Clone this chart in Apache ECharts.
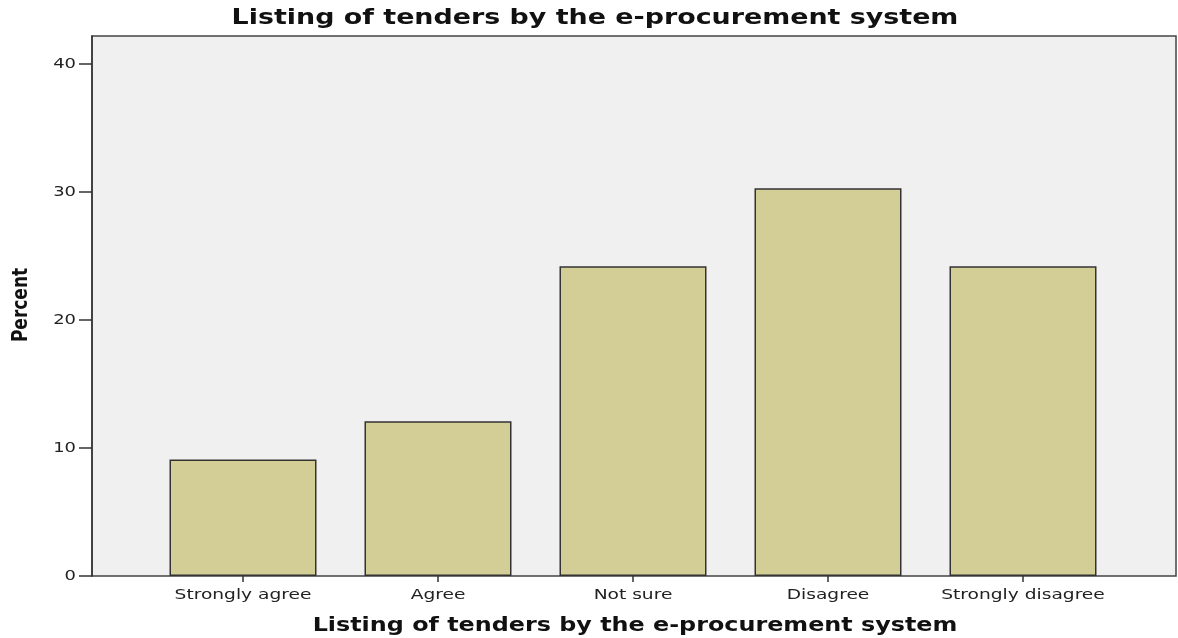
<!DOCTYPE html>
<html>
<head>
<meta charset="utf-8">
<script src="https://cdn.jsdelivr.net/npm/echarts@6/dist/echarts.min.js"></script>
<style>
  html, body { margin: 0; padding: 0; background: #fff; }
  #chart { width: 1178px; height: 638px; }
</style>
</head>
<body>
<div id="chart"></div>
<script>
// data (percent of respondents)
const categories = ['Strongly agree', 'Agree', 'Not sure', 'Disagree', 'Strongly disagree'];
const percents = [9.1, 12.1, 24.2, 30.3, 24.2];
const yTicks = [0, 10, 20, 30, 40];
const titleText = 'Listing of tenders by the e-procurement system';

const font = 'DejaVu Sans';
// the original export is stretched sideways, so text gets a horizontal scale
const stretch = 1.28;

const chart = echarts.init(document.getElementById('chart'), null, { renderer: 'canvas' });

chart.setOption({
  animation: false,
  grid: [
    // frame + background
    { left: 92, right: 2, top: 36, bottom: 62, outerBoundsMode: 'none', containLabel: false,
      show: true, backgroundColor: '#f0f0f0', borderColor: '#444', borderWidth: 1.5 },
    // inner band for the bars
    { left: 145.5, width: 975, top: 36, bottom: 62, outerBoundsMode: 'none', containLabel: false }
  ],
  xAxis: [
    { gridIndex: 0, type: 'value', show: false, min: 0, max: 1 },
    {
      gridIndex: 1,
      type: 'category',
      data: categories,
      boundaryGap: true,
      axisLine: { show: false },
      axisTick: { show: true, alignWithLabel: true, length: 6, lineStyle: { color: '#333', width: 1.5 } },
      axisLabel: { show: false }
    }
  ],
  yAxis: [
    {
      gridIndex: 0,
      type: 'value',
      min: 0,
      max: 42.2,
      axisLine: { show: true, lineStyle: { color: '#333', width: 1.5 } },
      axisTick: { show: true, customValues: yTicks, length: 13, lineStyle: { color: '#333', width: 1.5 } },
      axisLabel: { show: false },
      splitLine: { show: false }
    },
    { gridIndex: 1, type: 'value', min: 0, max: 42.2, show: false }
  ],
  series: [{
    type: 'bar',
    xAxisIndex: 1,
    yAxisIndex: 1,
    data: percents,
    barWidth: 147,
    itemStyle: { color: '#d3cd96', borderColor: '#333', borderWidth: 1.5 }
  }]
});

// text, placed with the chart's own axes and stretched like the original
function txt(x, y, text, size, bold, align, extra) {
  return Object.assign({
    type: 'text', x: x, y: y, scaleX: stretch, silent: true,
    style: {
      text: text,
      fontFamily: font,
      fontSize: size,
      fontWeight: bold ? 'bold' : 'normal',
      fill: bold ? '#111' : '#222',
      textAlign: align,
      textVerticalAlign: 'middle',
      verticalAlign: 'middle'
    }
  }, extra || {});
}

const graphics = [];
graphics.push(txt(595, 19, titleText, 21, true, 'center'));
graphics.push(txt(635, 626, titleText, 19, true, 'center', { scaleX: 1.255 }));
graphics.push(txt(21, 305, 'Percent', 17, true, 'center', { rotation: Math.PI / 2, scaleX: 1, scaleY: stretch }));

categories.forEach(c => {
  const p = chart.convertToPixel({ gridIndex: 1 }, [c, 0]);
  graphics.push(txt(p[0], 595, c, 14, false, 'center', { scaleX: 1.33 }));
});
yTicks.forEach(v => {
  const p = chart.convertToPixel({ gridIndex: 0 }, [0, v]);
  graphics.push(txt(76, p[1], String(v), 14, false, 'right'));
});

chart.setOption({ graphic: graphics });
</script>
</body>
</html>
